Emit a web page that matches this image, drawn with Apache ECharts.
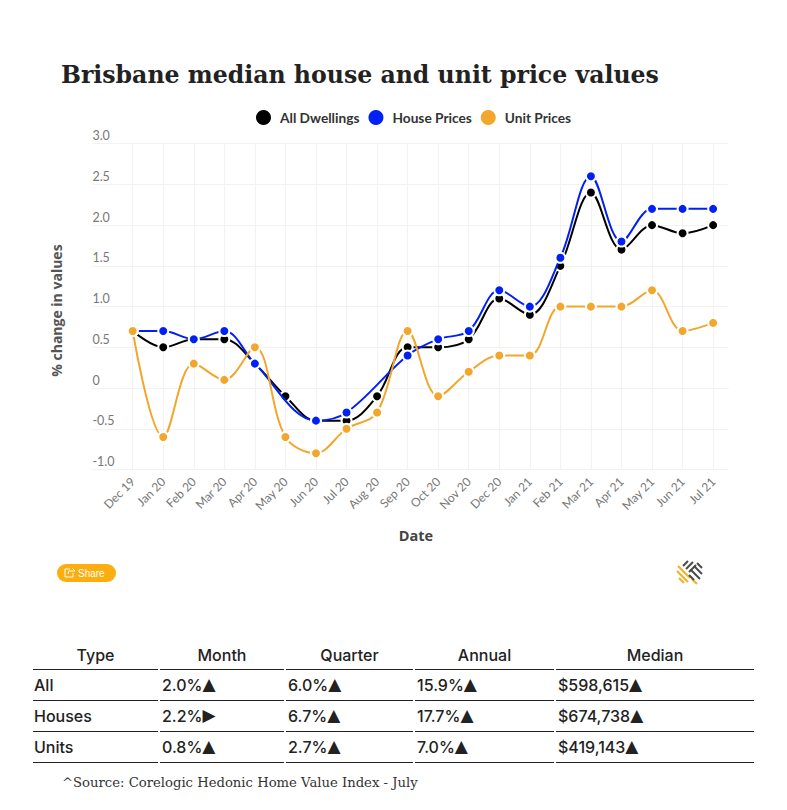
<!DOCTYPE html>
<html>
<head>
<meta charset="utf-8">
<style>html,body{margin:0;padding:0;background:#fff}#c{width:787px;height:810px}</style>
<script src="https://cdn.jsdelivr.net/npm/echarts@6/dist/echarts.min.js"></script>
</head>
<body>
<div id="c"></div>
<script>
var categories = ['Dec 19','Jan 20','Feb 20','Mar 20','Apr 20','May 20','Jun 20','Jul 20','Aug 20','Sep 20','Oct 20','Nov 20','Dec 20','Jan 21','Feb 21','Mar 21','Apr 21','May 21','Jun 21','Jul 21'];
var allDwellings = [0.7,0.5,0.6,0.6,0.3,-0.1,-0.4,-0.4,-0.1,0.5,0.5,0.6,1.1,0.9,1.5,2.4,1.7,2.0,1.9,2.0];
var housePrices = [0.7,0.7,0.6,0.7,0.3,null,-0.4,-0.3,null,0.4,0.6,0.7,1.2,1.0,1.6,2.6,1.8,2.2,2.2,2.2];
var unitPrices = [0.7,-0.6,0.3,0.1,0.5,-0.6,-0.8,-0.5,-0.3,0.7,-0.1,0.2,0.4,0.4,1.0,1.0,1.0,1.2,0.7,0.8];
var tableHead = ['Type','Month','Quarter','Annual','Median'];
var tableRows = [
  ['All','2.0%','6.0%','15.9%','$598,615'],
  ['Houses','2.2%','6.7%','17.7%','$674,738'],
  ['Units','0.8%','2.7%','7.0%','$419,143']
];
var tableArrows = [
  ['▲','▲','▲','▲'],
  ['▶','▲','▲','▲'],
  ['▲','▲','▲','▲']
];

var colX = [[33,158],[160,284],[286,413],[415,554],[556,754]];
var rowLine = [669.5,700.5,731.5,762.5];
var rowText = [685,716,747];
var tableFont = 'Inter, Roboto, sans-serif';
var cv = document.createElement('canvas').getContext('2d');
cv.font = '500 16px '+tableFont;
var g = [];
colX.forEach(function(c,i){
  g.push({type:'text',x:(c[0]+c[1])/2,y:655,style:{text:tableHead[i],font:'500 16px '+tableFont,fill:'#222',align:'center',verticalAlign:'middle'}});
  rowLine.forEach(function(y){
    g.push({type:'line',shape:{x1:c[0],y1:y,x2:c[1],y2:y},style:{stroke:'#222',lineWidth:1}});
  });
  tableRows.forEach(function(r,j){
    var tx = c[0]+(i===0?1:2);
    g.push({type:'text',x:tx,y:rowText[j],style:{text:r[i],font:'500 16px '+tableFont,fill:'#222',align:'left',verticalAlign:'middle'}});
    if(i>0){
      g.push({type:'text',x:tx+cv.measureText(r[i]).width,y:rowText[j]-1,style:{text:tableArrows[j][i-1],font:'17px "DejaVu Sans"',fill:'#222',align:'left',verticalAlign:'middle'}});
    }
  });
});
g.push({type:'text',x:62,y:782,style:{text:'^Source: Corelogic Hedonic Home Value Index - July',font:'13.2px "DejaVu Serif"',fill:'#333',align:'left',verticalAlign:'middle'}});
// share button
g.push({type:'rect',shape:{x:57,y:564,width:59,height:18,r:9},style:{fill:'#fbae0e'}});
g.push({type:'polyline',shape:{points:[[70,569],[65,569],[65,577],[73,577],[73,573]]},style:{fill:'none',stroke:'#fff',lineWidth:1}});
g.push({type:'polyline',shape:{points:[[68,574],[69,571],[75,571],[72.5,568.5]]},style:{fill:'none',stroke:'#fff',lineWidth:1}});
g.push({type:'text',x:78,y:573,style:{text:'Share',font:'10px "Liberation Sans", sans-serif',fill:'#fff',align:'left',verticalAlign:'middle'}});
// logo
var logoGold = [[678,566,690,578],[677,571,688,582],[679,578,684,583],[692,579,697,584]];
var logoDark = [[683,566,688,561],[686,569,693,562],[689,572,696,565],[694,566,702,574],[691,570,700,579],[689,575,694,580],[697,563,702,568]];
logoGold.forEach(function(l){g.push({type:'line',shape:{x1:l[0],y1:l[1],x2:l[2],y2:l[3]},style:{stroke:'#f0b429',lineWidth:2.2}});});
logoDark.forEach(function(l){g.push({type:'line',shape:{x1:l[0],y1:l[1],x2:l[2],y2:l[3]},style:{stroke:'#4a4a4a',lineWidth:2}});});

function mk(name,data,color,z){
  return {name:name,type:'line',smooth:0.35,connectNulls:true,data:data,z:z,symbol:'circle',symbolSize:10,showSymbol:true,
    lineStyle:{color:color,width:2},itemStyle:{color:color,borderColor:'#fff',borderWidth:2},
    emphasis:{disabled:true}};
}
var chart = echarts.init(document.getElementById('c'),null,{renderer:'svg'});
chart.setOption({
  animation:false,
  backgroundColor:'#fff',
  title:{text:'Brisbane median house and unit price values',left:56,top:58,
    textStyle:{fontFamily:'"DejaVu Serif", serif',fontWeight:'bold',fontSize:23.6,color:'#222'}},
  legend:{top:105,left:251,itemWidth:15,itemHeight:15,itemGap:9,icon:'circle',
    data:['All Dwellings','House Prices','Unit Prices'],
    itemStyle:{borderWidth:0},
    textStyle:{fontFamily:'Lato, sans-serif',fontSize:13.7,fontWeight:'bold',color:'#333',padding:[0,0,0,4]}},
  grid:{left:117.4,right:58.6,top:143.7,bottom:340.5},
  xAxis:{type:'category',data:categories,boundaryGap:true,name:'Date',nameLocation:'middle',nameGap:58,
    nameTextStyle:{fontFamily:'"Open Sans", sans-serif',fontSize:14.5,fontWeight:'bold',color:'#444',padding:[0,14,0,0]},
    axisLine:{show:true,lineStyle:{color:'#f2f2f2'}},axisTick:{show:false,alignWithLabel:true},
    splitLine:{show:true,alignWithLabel:true,lineStyle:{color:'#f2f2f2',width:1}},
    axisLabel:{rotate:45,interval:0,fontFamily:'Lato, "Open Sans", sans-serif',fontSize:12,color:'#777',margin:10}},
  yAxis:{type:'value',min:-1,max:3,interval:0.5,name:'% change in values',nameLocation:'middle',nameGap:54,
    nameTextStyle:{fontFamily:'"Open Sans", sans-serif',fontSize:14,fontWeight:'bold',color:'#555',padding:[0,8,0,0]},
    axisLine:{show:false},axisTick:{show:true,length:25,lineStyle:{color:'#f2f2f2'}},
    splitLine:{show:true,lineStyle:{color:'#f2f2f2',width:1}},
    axisLabel:{fontFamily:'Lato, "Open Sans", sans-serif',fontSize:12.5,color:'#777',align:'left',verticalAlign:'bottom',margin:25,lineHeight:16,
      formatter:function(v){return v===0?'0':v.toFixed(1);}}},
  series:[mk('All Dwellings',allDwellings,'#000',3),mk('House Prices',housePrices,'#0020f5',4),mk('Unit Prices',unitPrices,'#f2a72c',5)],
  graphic:g
});
</script>
</body>
</html>
